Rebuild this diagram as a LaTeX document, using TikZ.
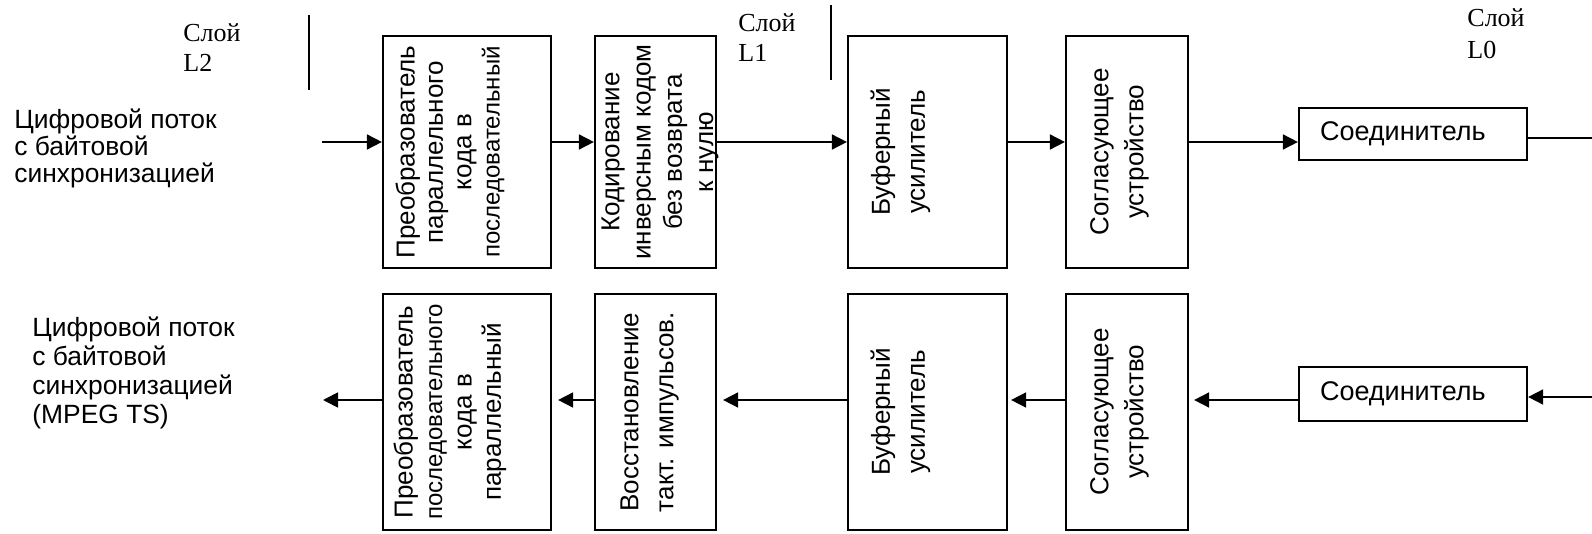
\documentclass[tikz,border=0pt]{standalone}
\usepackage{fontspec}
\setmainfont{Liberation Sans}
\newfontfamily\timesfont{Liberation Serif}
\usetikzlibrary{arrows.meta}

\begin{document}
\begin{tikzpicture}[x=0.5pt,y=-0.5pt,
    blk/.style={draw,line width=1.1pt,inner sep=0pt},
    vtxt/.style={rotate=90,align=center,inner sep=0pt,font=\fontsize{13pt}{#1}\selectfont},
    vtxt/.default=15pt,
    txt/.style={anchor=north west,align=left,inner sep=0pt,font=\fontsize{13.2pt}{#1}\selectfont},
    con/.style={draw,line width=1.1pt,inner xsep=10.5pt,text width=93pt,align=left,font=\fontsize{13.5pt}{15pt}\selectfont},
    layer/.style={anchor=north west,align=left,inner sep=0pt,font=\timesfont\fontsize{13pt}{#1}\selectfont},
    arr/.style={line width=0.85pt,-{Triangle[length=7.5pt,width=7.5pt]}}]
  \useasboundingbox (0,0) rectangle (1592,534);

  % layers
  \node[layer=15pt] (sl2) at (183,23) {Слой\\L2};
  \node[layer=15pt] (sl1) at (738,13) {Слой\\L1};
  \node[layer=16pt] (sl0) at (1467,8) {Слой\\L0};
  \draw[line width=1pt] (309,15) -- (309,90);
  \draw[line width=1pt] (831,5) -- (831,80);

  % stream labels
  \node[txt=13.5pt] (src) at (14,109) {Цифровой поток\\с байтовой\\синхронизацией};
  \node[txt=14.5pt] (dst) at (32,317) {Цифровой поток\\с байтовой\\синхронизацией\\(MPEG TS)};

  % transmit chain
  \node[blk,minimum width=84pt,minimum height=116pt] (ppk) at (467,152) {};
  \node[vtxt=14.2pt] (ppktxt) at (450,152) {Преобразователь\\параллельного\\кода в\\{\fontsize{12pt}{14.2pt}\selectfont последовательный}};
  \node[blk,minimum width=60.5pt,minimum height=116pt] (kod) at (655.5,152) {};
  \node[vtxt=15.6pt] (kodtxt) at (660,152) {Кодирование\\инверсным кодом\\без возврата\\к нулю};
  \node[blk,minimum width=79.5pt,minimum height=116pt] (buf1) at (927.5,152) {};
  \node[vtxt=17.5pt] (buf1txt) at (900.5,152) {Буферный\\усилитель};
  \node[blk,minimum width=61pt,minimum height=116pt] (sogl1) at (1127,152) {};
  \node[vtxt=17.5pt] (sogl1txt) at (1119.5,152) {Согласующее\\устройство};
  \node[con,minimum height=26pt] (soed1) at (1413,134) {Соединитель};

  % receive chain
  \node[blk,minimum width=84pt,minimum height=118pt] (ppk2) at (467,412) {};
  \node[vtxt=14.7pt] (ppk2txt) at (450,412) {Преобразователь\\{\fontsize{12pt}{14.7pt}\selectfont последовательного}\\кода в\\параллельный};
  \node[blk,minimum width=60.5pt,minimum height=118pt] (vost) at (655.5,412) {};
  \node[vtxt=17.5pt] (vosttxt) at (649.5,412) {Восстановление\\такт. импульсов.};
  \node[blk,minimum width=79.5pt,minimum height=118pt] (buf2) at (927.5,412) {};
  \node[vtxt=17.5pt] (buf2txt) at (900.5,412) {Буферный\\усилитель};
  \node[blk,minimum width=61pt,minimum height=118pt] (sogl2) at (1127,412) {};
  \node[vtxt=17.5pt] (sogl2txt) at (1119.5,412) {Согласующее\\устройство};
  \node[con,minimum height=27pt] (soed2) at (1413,394) {Соединитель};

  % transmit arrows
  \coordinate (inT) at (322,142);
  \coordinate (outT) at (1592,138);
  \draw[arr] (inT) -- (inT -| ppk.west);
  \draw[arr] (ppk.east |- inT) -- (kod.west |- inT);
  \draw[arr] (kod.east |- inT) -- (buf1.west |- inT);
  \draw[arr] (buf1.east |- inT) -- (sogl1.west |- inT);
  \draw[arr] (sogl1.east |- inT) -- (soed1.west |- inT);
  \draw[line width=0.85pt] (soed1.east |- outT) -- (outT);

  % receive arrows
  \coordinate (inB) at (1592,397);
  \coordinate (outB) at (323,400);
  \draw[arr] (inB) -- (inB -| soed2.east);
  \draw[arr,shorten >=2.5pt] (soed2.west |- outB) -- (sogl2.east |- outB);
  \draw[arr,shorten >=1.5pt] (sogl2.west |- outB) -- (buf2.east |- outB);
  \draw[arr,shorten >=3pt] (buf2.west |- outB) -- (vost.east |- outB);
  \draw[arr,shorten >=3pt] (vost.west |- outB) -- (ppk2.east |- outB);
  \draw[arr] (ppk2.west |- outB) -- (outB);
\end{tikzpicture}
\end{document}
